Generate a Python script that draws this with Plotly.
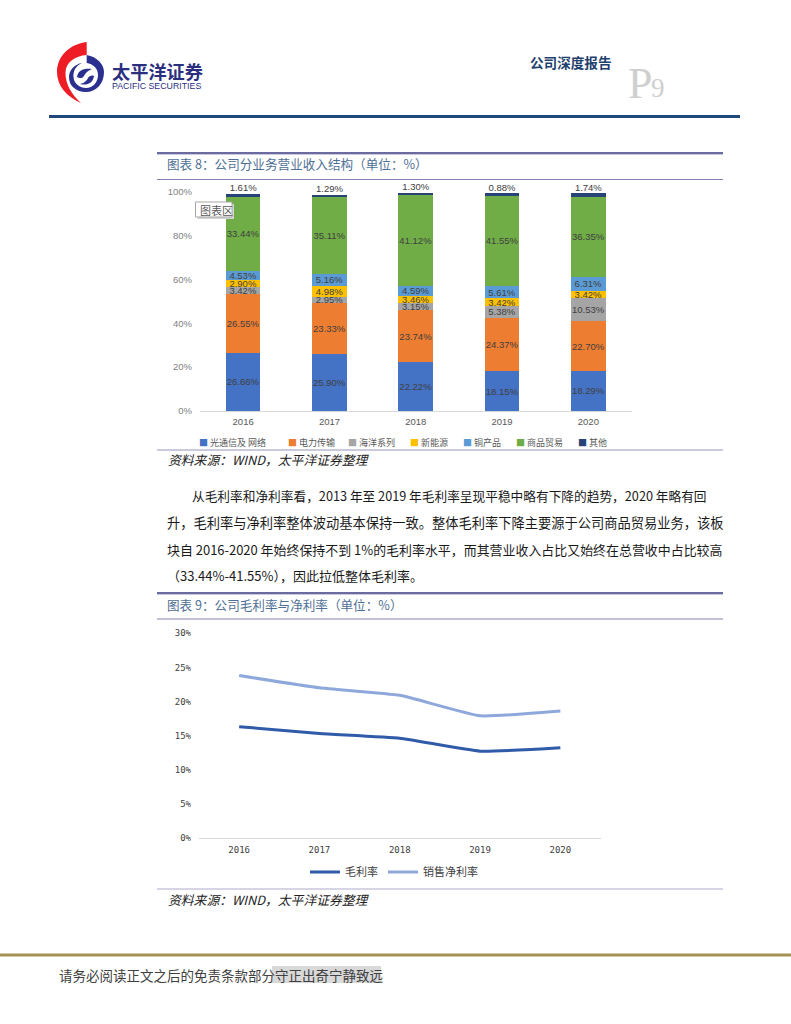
import plotly.graph_objects as go

# ---------- data ----------
years = ["2016", "2017", "2018", "2019", "2020"]
seg_names = ["光通信及 网络", "电力传输", "海洋系列", "新能源", "铜产品", "商品贸易", "其他"]
optical = [26.66, 25.90, 22.22, 18.15, 18.29]
power = [26.55, 23.33, 23.74, 24.37, 22.70]
marine = [3.42, 2.95, 3.15, 5.38, 10.53]
new_energy = [2.90, 4.98, 3.46, 3.42, 3.42]
copper = [4.53, 5.16, 4.59, 5.61, 6.31]
trading = [33.44, 35.11, 41.12, 41.55, 36.35]
other = [1.61, 1.29, 1.30, 0.88, 1.74]
seg_colors = ["#4472C4", "#ED7D31", "#A5A5A5", "#FFC000", "#5B9BD5", "#70AD47", "#264478"]
gross_margin = [16.3, 15.3, 14.6, 12.7, 13.2]
net_margin = [23.8, 22.0, 20.9, 17.9, 18.6]
share_ticks = [0, 20, 40, 60, 80, 100]
margin_ticks = [0, 5, 10, 15, 20, 25, 30]
legend_x = [197, 285.5, 345.5, 407.5, 461, 514, 576]

W, H = 791, 1024
CJK = "Noto Sans CJK SC"
px = lambda x: x / W
py = lambda y: 1 - y / H


def line(x0, x1, y, color, width):
    return dict(type="line", xref="paper", yref="paper", x0=px(x0), x1=px(x1), y0=py(y), y1=py(y),
                line=dict(color=color, width=width))


def rect(x0, y0, x1, y1, fill, border=None):
    return dict(type="rect", xref="paper", yref="paper", x0=px(x0), x1=px(x1), y0=py(y0), y1=py(y1),
                fillcolor=fill, line=dict(color=border or fill, width=1 if border else 0))


def path(points, fill):
    """points: SVG-like list of ('M',x,y) / ('C',x1,y1,x2,y2,x,y) in page pixels."""
    out = []
    for p in points:
        vals = [(px(v) if i % 2 == 0 else py(v)) for i, v in enumerate(p[1:])]
        out.append(p[0] + " " + " ".join(f"{v:.5f}" for v in vals))
    return dict(type="path", xref="paper", yref="paper", path=" ".join(out) + " Z",
                fillcolor=fill, line=dict(width=0))


def text(x, y, s, size, color, family=CJK, anchor="left"):
    return dict(xref="paper", yref="paper", x=px(x), y=py(y), text=s, showarrow=False,
                xanchor=anchor, yanchor="middle", align="left",
                font=dict(family=family, size=size, color=color))


fig = go.Figure()

series = [optical, power, marine, new_energy, copper, trading, other]
for name, vals, col in zip(seg_names, series, seg_colors):
    is_top = name == seg_names[-1]
    fig.add_trace(go.Bar(
        x=years, y=vals, name=name, width=0.4, marker=dict(color=col, line=dict(width=0)),
        text=None if is_top else [f"{v:.2f}%" for v in vals],
        textposition="none" if is_top else "inside", insidetextanchor="middle",
        constraintext="none", textangle=0,
        insidetextfont=dict(family="Liberation Sans", size=9.5, color="#404040"),
        xaxis="x", yaxis="y", showlegend=False, hoverinfo="skip"))

totals = [sum(s[i] for s in series) for i in range(len(years))]
fig.add_trace(go.Scatter(
    x=years, y=totals, mode="text", text=[f"{v:.2f}%" for v in other], textposition="top center",
    textfont=dict(family="Liberation Sans", size=9.5, color="#404040"), cliponaxis=False,
    showlegend=False, hoverinfo="skip", xaxis="x", yaxis="y"))

fig.add_trace(go.Scatter(
    x=years, y=gross_margin, name="毛利率", mode="lines",
    line=dict(color="#2F5BA8", width=3, shape="spline", smoothing=0.4),
    xaxis="x2", yaxis="y2", hoverinfo="skip"))
fig.add_trace(go.Scatter(
    x=years, y=net_margin, name="销售净利率", mode="lines",
    line=dict(color="#8FA8DC", width=3, shape="spline", smoothing=0.4),
    xaxis="x2", yaxis="y2", hoverinfo="skip"))

shapes = [
    line(49, 740, 116.5, "#1F497D", 3),
    line(0, 791, 955, "#A39350", 3),
    rect(272, 966, 381, 983, "#D9D9D9"),
    # figure 8 frame
    line(157, 723, 153, "#6B6BA0", 2),
    line(157, 723, 154.5, "#C8C8E0", 1),
    line(157, 723, 179.5, "#8484B4", 1.2),
    line(157, 723, 450, "#B8B8D4", 1.5),
    # figure 9 frame
    line(157, 723, 593, "#6B6BA0", 2),
    line(157, 723, 594.5, "#C8C8E0", 1),
    line(157, 723, 619, "#8484B4", 1.2),
    line(157, 723, 889, "#B0ACCC", 1.2),
    # chart-area tooltip
    rect(197.5, 204, 234, 219, "#D4D4D4"),
    rect(195.5, 202, 232, 217, "#FFFFFF", "#A6A6A6"),
    # logo
    path([("M", 86.7, 42), ("C", 70, 44, 57, 56, 57, 72), ("C", 57, 86, 67, 97, 81, 103),
          ("C", 72, 95, 65, 84, 65.5, 72), ("C", 66, 62, 75, 56, 86.7, 55)], "#EE1C25"),
    path([("M", 86.7, 55), ("C", 97, 57, 104, 64, 104, 72), ("C", 104, 84, 96, 92, 86, 92),
          ("C", 76, 92, 69, 86, 69, 77), ("C", 69, 70, 75, 64, 82, 63),
          ("C", 75, 66, 73, 72, 73.5, 77), ("C", 74, 84, 80, 88, 86, 88),
          ("C", 93, 88, 98, 82, 98, 75), ("C", 98, 68, 93, 64, 86.7, 63)], "#2B2F8F"),
    path([("M", 77, 77), ("C", 78, 70, 84, 68, 92, 69), ("C", 87, 71, 85, 74, 84, 76),
          ("C", 83, 78, 80, 79, 77, 77)], "#2B2F8F"),
    path([("M", 94, 76), ("C", 93, 83, 87, 86, 80, 84), ("C", 85, 83, 87, 80, 88, 78),
          ("C", 89, 76, 92, 75, 94, 76)], "#2B2F8F"),
]

body = "#1A1A1A"
annotations = [
    text(110, 70.5, "<b>太平洋证券</b>", 18.2, "#2B2F7F"),
    text(110, 85.5, "PACIFIC SECURITIES", 8.8, "#2B2F7F", "Liberation Sans"),
    text(528, 62, "<b>公司深度报告</b>", 13.6, "#1F3F6F"),
    text(626, 83, "P", 44, "#CFCFCF", "Liberation Serif"),
    text(649, 88, "9", 27, "#CFCFCF", "Liberation Serif"),
    text(165, 163, "图表 8：公司分业务营业收入结构（单位：%）", 12.6, "#4F7096"),
    text(165, 604, "图表 9：公司毛利率与净利率（单位：%）", 12.6, "#4F7096"),
    text(198, 209.5, "图表区", 11, "#595959"),
    text(166, 459.5, "<i>资料来源：WIND，太平洋证券整理</i>", 12.8, "#222222"),
    text(166, 899.5, "<i>资料来源：WIND，太平洋证券整理</i>", 12.8, "#222222"),
    text(190, 495.5, "从毛利率和净利率看，2013 年至 2019 年毛利率呈现平稳中略有下降的趋势，2020 年略有回", 12.7, body),
    text(165, 522, "升，毛利率与净利率整体波动基本保持一致。整体毛利率下降主要源于公司商品贸易业务，该板", 13.25, body),
    text(165, 549, "块自 2016-2020 年始终保持不到 1%的毛利率水平，而其营业收入占比又始终在总营收中占比较高", 12.95, body),
    text(165, 575.5, "（33.44%-41.55%），因此拉低整体毛利率。", 13.0, body),
    text(57, 975, "请务必阅读正文之后的免责条款部分守正出奇宁静致远", 13.5, "#404040"),
]
for lx, name, col in zip(legend_x, seg_names, seg_colors):
    annotations.append(text(lx, 442, f'<span style="color:{col}">■</span> {name}', 9, "#595959"))

fig.update_layout(
    width=W, height=H, autosize=False, margin=dict(l=0, r=0, t=0, b=0, autoexpand=False),
    paper_bgcolor="white", plot_bgcolor="white", barmode="stack", bargap=0.6,
    font=dict(family=CJK), shapes=shapes, annotations=annotations, showlegend=True,
    xaxis=dict(domain=[px(200), px(631.5)], anchor="y", type="category", range=[-0.5, 4.5], showgrid=False, ticks="",
               showline=True, linecolor="#D9D9D9", linewidth=1, ticklabelstandoff=2,
               tickfont=dict(family="Liberation Sans", size=9.5, color="#595959")),
    yaxis=dict(domain=[py(411), py(191.7)], anchor="x", range=[0, 100], tickvals=share_ticks,
               ticktext=[f"{t}%" for t in share_ticks], ticklabelstandoff=7,
               showgrid=False, showline=False, zeroline=False, ticks="",
               tickfont=dict(family="Liberation Sans", size=9.5, color="#7F7F7F")),
    xaxis2=dict(domain=[px(199), px(600.5)], anchor="y2", type="category", range=[-0.5, 4.5], showgrid=False, ticks="",
                showline=True, linecolor="#D9D9D9", linewidth=1, ticklabelstandoff=3,
                tickfont=dict(family="DejaVu Sans Mono", size=9, color="#404040")),
    yaxis2=dict(domain=[py(837.7), py(633.3)], anchor="x2", range=[0, 30], tickvals=margin_ticks,
                ticktext=[f"{t}%" for t in margin_ticks], ticklabelstandoff=7,
                showgrid=False, showline=False, zeroline=False, ticks="",
                tickfont=dict(family="DejaVu Sans Mono", size=9, color="#404040")),
    legend=dict(orientation="h", x=px(305), y=py(872), xanchor="left", yanchor="middle", itemwidth=30,
                traceorder="normal",
                font=dict(family=CJK, size=11, color="#404040"), bgcolor="rgba(0,0,0,0)"),
)

fig.write_html("out.html", config=dict(displayModeBar=False),
               post_script="document.body.style.margin='0';document.body.style.overflow='hidden';")
